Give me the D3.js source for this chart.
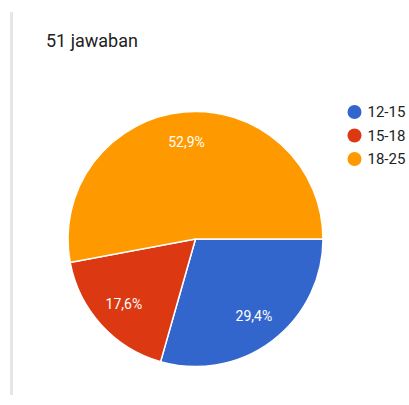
<!DOCTYPE html>
<html>
<head>
<meta charset="utf-8">
<script src="https://cdn.jsdelivr.net/npm/d3@7"></script>
<style>
  body { margin: 0; background: #fff; }
  svg { display: block; font-family: Roboto, "Noto Sans", sans-serif; }
</style>
</head>
<body>
<div id="chart"></div>
<script>
// data
const categories = ["12-15", "15-18", "18-25"];
const counts = [15, 9, 27];
const percentLabels = ["29,4%", "17,6%", "52,9%"];
const colors = ["#3366cc", "#dc3912", "#ff9900"];
const title = "51 jawaban";

const width = 409, height = 405;

const svg = d3.select("#chart")
    .append("svg")
    .attr("width", width)
    .attr("height", height);

// card left border
svg.append("rect")
    .attr("x", 10)
    .attr("y", 12)
    .attr("width", 3)
    .attr("height", 383)
    .attr("fill", "#e6e6e6");

// title
svg.append("text")
    .attr("x", 46)
    .attr("y", 47)
    .style("font-size", "18px")
    .style("fill", "#212121")
    .text(title);

// pie
const cx = 195.5, cy = 239, radius = 127.5;

const pie = d3.pie()
    .sort(null)
    .startAngle(Math.PI / 2)
    .endAngle(Math.PI / 2 + 2 * Math.PI)
    .value(d => d);

const arcs = pie(counts);

const arc = d3.arc().innerRadius(0).outerRadius(radius);
const labelArc = d3.arc().innerRadius(radius * 0.76).outerRadius(radius * 0.76);

const g = svg.append("g")
    .attr("transform", `translate(${cx},${cy})`);

g.selectAll("path")
    .data(arcs)
    .join("path")
    .attr("d", arc)
    .attr("fill", (d, i) => colors[i])
    .attr("stroke", "#fff")
    .attr("stroke-width", 1.5);

g.selectAll("text")
    .data(arcs)
    .join("text")
    .attr("transform", d => `translate(${labelArc.centroid(d)})`)
    .attr("text-anchor", "middle")
    .attr("dy", "0.35em")
    .style("font-size", "14px")
    .style("fill", "#fff")
    .text((d, i) => percentLabels[i]);

// legend
const legend = svg.selectAll(".legend")
    .data(categories)
    .join("g")
    .attr("class", "legend")
    .attr("transform", (d, i) => `translate(354.5, ${112 + i * 23.5})`);

legend.append("circle")
    .attr("r", 7)
    .attr("fill", (d, i) => colors[i]);

legend.append("text")
    .attr("x", 13)
    .attr("dy", "0.35em")
    .style("font-size", "15px")
    .style("fill", "#222")
    .text(d => d);
</script>
</body>
</html>
